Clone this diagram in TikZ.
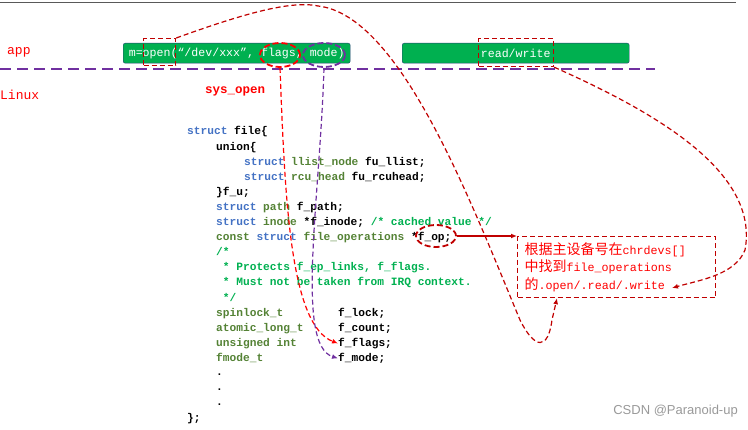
\documentclass[tikz,border=0pt]{standalone}
\usepackage{fontspec}
\usetikzlibrary{arrows.meta,shapes.geometric}
\newfontfamily\codefont{Liberation Mono}
\newfontfamily\cjk{Noto Sans CJK SC}
\setsansfont{Liberation Sans}
\definecolor{kwblue}{HTML}{4472C4}
\definecolor{tygreen}{HTML}{548235}
\definecolor{cmgreen}{HTML}{00B050}
\definecolor{boxgreen}{HTML}{00B050}
\definecolor{dred}{HTML}{C00000}
\definecolor{lred}{HTML}{FF0000}
\definecolor{purp}{HTML}{7030A0}
\newcommand\kwd[1]{\textcolor{kwblue}{#1}}
\newcommand\typ[1]{\textcolor{tygreen}{#1}}
\newcommand\cmt[1]{\textcolor{cmgreen}{#1}}
\newcommand\lat[1]{{\codefont\fontsize{11.7}{17.5}\selectfont #1}}
\tikzset{
 code/.style={anchor=base west,inner sep=0pt,font=\codefont\bfseries\fontsize{11.2}{13}\selectfont},
 gbox/.style={draw=kwblue!60!black,fill=boxgreen,rounded corners=2pt,minimum height=20pt,inner sep=0pt,text=white,font=\codefont\fontsize{11.6}{13}\selectfont},
 lab/.style={text=lred,font=\codefont\fontsize{13}{15}\selectfont,inner sep=0pt,anchor=base west},
 rdash/.style={draw=dred,line width=1.2pt,dash pattern=on 5pt off 3pt},
 pdash/.style={draw=purp,line width=1.2pt,dash pattern=on 5pt off 3pt},
 tip/.style={-{Latex[length=6pt,width=5pt]}},
}
\begin{document}
\begin{tikzpicture}[x=1pt,y=-1pt]
\useasboundingbox (0,0) rectangle (748,430);
\draw[gray!70!black,line width=1pt] (0,3) -- (736,3);
\node[lab] (app) at (7,55) {app};
\node[lab] (linux) at (0,100) {Linux};
\node[lab,font=\codefont\bfseries\fontsize{12.5}{13}\selectfont] (sys) at (205,94) {sys\_open};
\node[gbox,minimum width=227pt,anchor=north west] (open) at (123,43) {m=open(“/dev/xxx”, flags, mode)};
\node[gbox,minimum width=227pt,anchor=north west] (rw) at (402,43) {read/write};
\draw[purp,line width=2.5pt,dash pattern=on 11pt off 6pt] (0,69) -- (655,69);
% code
\node[code] (l1) at (187,135) {\kwd{struct} file\{};
\node[code] (l2) at (216,150.1) {union\{};
\node[code] (l3) at (244,165.2) {\kwd{struct} \typ{llist\_node} fu\_llist;};
\node[code] (l4) at (244,180.3) {\kwd{struct} \typ{rcu\_head} fu\_rcuhead;};
\node[code] (l5) at (216,195.4) {\}f\_u;};
\node[code] (l6) at (216,210.5) {\kwd{struct} \typ{path} f\_path;};
\node[code] (l7) at (216,225.6) {\kwd{struct} \typ{inode} *f\_inode; \cmt{/* cached value */}};
\node[code] (l8) at (216,240.7) {\typ{const} \kwd{struct} \typ{file\_operations} *f\_op;};
\node[code] (l9) at (216,255.8) {\cmt{/*}};
\node[code] (l10) at (222.7,270.9) {\cmt{* Protects f\_ep\_links, f\_flags.}};
\node[code] (l11) at (222.7,286) {\cmt{* Must not be taken from IRQ context.}};
\node[code] (l12) at (222.7,301.1) {\cmt{*/}};
\node[code] (l13) at (216,316.2) {\typ{spinlock\_t}};
\node[code] (l14) at (216,331.3) {\typ{atomic\_long\_t}};
\node[code] (l15) at (216,346.4) {\typ{unsigned int}};
\node[code] (l16) at (216,361.5) {\typ{fmode\_t}};
\node[code] (f13) at (338,316.2) {f\_lock;};
\node[code] (f14) at (338,331.3) {f\_count;};
\node[code] (f15) at (338,346.4) {f\_flags;};
\node[code] (f16) at (338,361.5) {f\_mode;};
\node[code] (d1) at (216,376) {.};
\node[code] (d2) at (216,391) {.};
\node[code] (d3) at (216,406) {.};
\node[code] (l17) at (187,422) {\};};
% explanation box
\node[rdash,anchor=north west,minimum width=198pt,minimum height=61pt,align=left,text=lred,font=\cjk\fontsize{14}{17.5}\selectfont,inner xsep=7pt,inner ysep=4pt,text width=184pt] (exp) at (517,236) {根据主设备号在\lat{chrdevs[]}\\中找到\lat{file\_operations}\\的\lat{.open/.read/.write}};
% ellipses
\node[draw=lred,line width=1.8pt,dash pattern=on 6pt off 3pt,ellipse,minimum width=40pt,minimum height=24pt,inner sep=0pt] (eflags) at (280,55) {};
\node[draw=purp,line width=1.8pt,dash pattern=on 6pt off 3pt,ellipse,minimum width=42pt,minimum height=24pt,inner sep=0pt] (emode) at (324,55) {};
\node[draw=dred,line width=1.8pt,dash pattern=on 6pt off 3pt,ellipse,minimum width=40pt,minimum height=22pt,inner sep=0pt] (efop) at (436,236) {};
\node[rdash,minimum width=32pt,minimum height=27pt,inner sep=0pt,anchor=north west] (rmopen) at (143,38) {};
\node[rdash,minimum width=75pt,minimum height=28pt,inner sep=0pt,anchor=north west] (rrw) at (478,38) {};
% connectors
\draw[dred,line width=1.2pt,tip] (efop.east) -- (exp.west |- efop.east);
\coordinate (fl) at (f15.west);
\coordinate (fm) at (f16.west);
\draw[draw=lred,line width=1.2pt,dash pattern=on 5pt off 3pt,tip] (eflags.south) .. controls (285,200) and (290,325) .. (fl);
\draw[pdash,tip] (emode.south) .. controls (320,200) and (295,345) .. (fm);
\coordinate (peak) at (318,6);
\draw[rdash,tip] (rmopen.north east) .. controls (240,15) and (290,0) .. (peak)
  .. controls (400,15) and (470,200) .. (520,320)
  .. controls (535,350) and (548,350) .. (552,320) -- ([xshift=40pt]exp.south west);
\draw[rdash,tip] (rrw.south east) .. controls (650,110) and (760,170) .. (745,250)
  .. controls (735,275) and (700,280) .. (672,288);
\node[text=gray!80,font=\sffamily\fontsize{13}{15}\selectfont,anchor=base east,inner sep=0pt] (wm) at (738,415) {CSDN @Paranoid-up};
\end{tikzpicture}
\end{document}
